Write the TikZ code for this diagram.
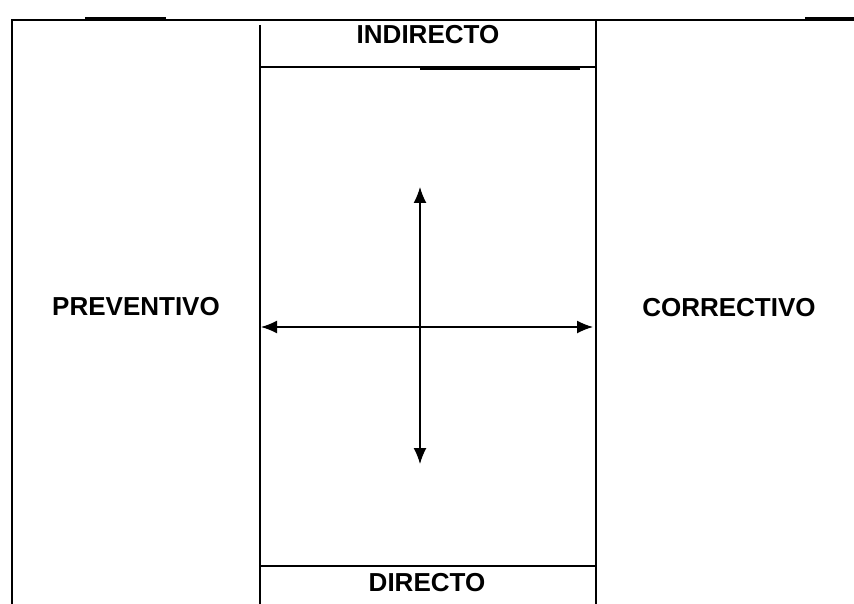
\documentclass[tikz,border=0pt]{standalone}
\usepackage{fontspec}
\setmainfont{Liberation Sans}
\usetikzlibrary{arrows.meta}
\begin{document}
\begin{tikzpicture}[
        x=1pt, y=-1pt,
        word/.style={font=\fontsize{26}{30}\selectfont\bfseries, inner sep=0pt},
        frame/.style={line width=1.2pt},
        heavy/.style={line width=3pt},
        arrow/.style={{Latex[length=16pt,width=13pt]}-{Latex[length=16pt,width=13pt]}, line width=1.4pt}
    ]
        \useasboundingbox (0,0) rectangle (854,604);
        % frame lines
        \draw[frame] (12,604) -- (12,20) -- (854,20);
        \draw[frame] (260,25) -- (260,604);
        \draw[frame] (596,20) -- (596,604);
        \draw[frame] (260,67) -- (596,67);
        \draw[frame] (260,566) -- (596,566);
        \draw[heavy] (85,18.5) -- (166,18.5);
        \draw[heavy] (805,18.5) -- (854,18.5);
        \draw[heavy] (420,68.5) -- (580,68.5);
        
        \node[word] (indirecto) at (428,35) {INDIRECTO};
        \node[word] (directo) at (427,582.5) {DIRECTO};
        \node[word] (preventivo) at (136,307) {PREVENTIVO};
        \node[word] (correctivo) at (729,308) {CORRECTIVO};
        
        \coordinate (west) at (261,327);
        \coordinate (east) at (593,327);
        \coordinate (north) at (420,187);
        \coordinate (south) at (420,464);
        \draw[arrow] (west) -- (east);
        \draw[arrow] (north) -- (south);
    \end{tikzpicture}
\end{document}
